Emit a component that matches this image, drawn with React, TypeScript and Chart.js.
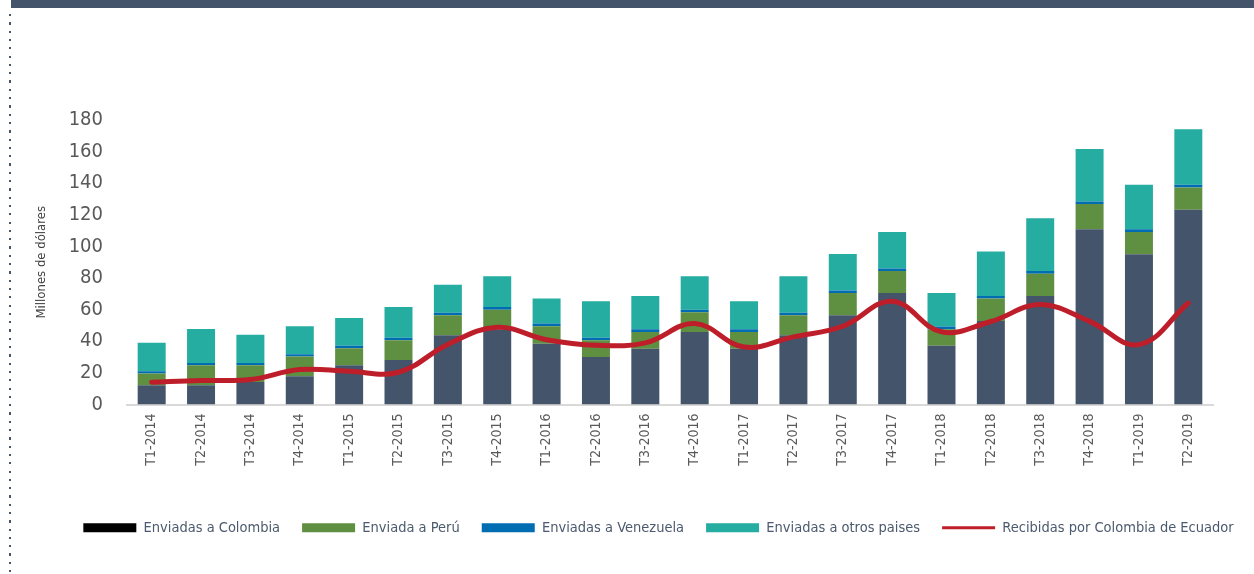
import React, { useEffect, useRef } from 'react';
import { Chart, registerables } from 'chart.js';

Chart.register(...registerables);

const categories = [
  'T1-2014', 'T2-2014', 'T3-2014', 'T4-2014',
  'T1-2015', 'T2-2015', 'T3-2015', 'T4-2015',
  'T1-2016', 'T2-2016', 'T3-2016', 'T4-2016',
  'T1-2017', 'T2-2017', 'T3-2017', 'T4-2017',
  'T1-2018', 'T2-2018', 'T3-2018', 'T4-2018',
  'T1-2019', 'T2-2019',
];

const enviadasColombia = [12.2, 12.2, 14.3, 17.9, 24.8, 28.2, 43.8, 47.4, 38.5, 30.1, 35.2, 45.9, 35.2, 43.8, 56.4, 70.6, 37.1, 52.9, 68.7, 110.8, 95.0, 123.2];
const enviadaPeru = [7.4, 12.6, 10.5, 12.4, 10.8, 12.4, 12.6, 12.6, 11.0, 10.5, 10.7, 12.4, 10.7, 12.6, 14.2, 13.9, 10.5, 14.1, 14.1, 16.0, 14.1, 14.1];
const enviadasVenezuela = [1.5, 1.5, 1.5, 1.5, 1.5, 1.7, 1.7, 1.7, 1.7, 1.7, 1.7, 1.7, 1.7, 1.7, 1.6, 1.6, 1.7, 1.7, 1.7, 1.6, 1.7, 1.7];
const enviadasOtros = [17.9, 21.5, 17.9, 17.7, 17.7, 19.4, 17.7, 19.4, 15.8, 23.0, 21.1, 21.1, 17.7, 23.0, 23.0, 23.0, 21.3, 28.1, 33.4, 33.3, 28.2, 35.2];
const recibidasEcuador = [14.1, 15.2, 15.8, 22.1, 21.0, 20.4, 38.0, 48.8, 41.0, 37.5, 39.0, 51.2, 36.4, 42.8, 49.5, 65.3, 46.0, 52.5, 63.2, 52.6, 37.9, 64.2];

const yMin = 0;
const yMax = 180;
const yStep = 20;

const FONT = "'DejaVu Sans Condensed', 'DejaVu Sans', sans-serif";

export default function App() {
  const canvasRef = useRef<HTMLCanvasElement | null>(null);

  useEffect(() => {
    const canvas = canvasRef.current;
    if (!canvas) return;
    const barCommon = {
      type: 'bar' as const,
      stack: 'bars',
      order: 1,
      categoryPercentage: 1,
      barPercentage: 0.567,
      borderWidth: 0,
    };
    const chart = new Chart(canvas, {
      type: 'bar',
      data: {
        labels: categories,
        datasets: [
          { ...barCommon, label: 'Enviadas a Colombia', data: enviadasColombia, backgroundColor: '#44546a' },
          { ...barCommon, label: 'Enviada a Perú', data: enviadaPeru, backgroundColor: '#5f8f41' },
          { ...barCommon, label: 'Enviadas a Venezuela', data: enviadasVenezuela, backgroundColor: '#006db3' },
          { ...barCommon, label: 'Enviadas a otros paises', data: enviadasOtros, backgroundColor: '#25ada1' },
          {
            type: 'line',
            label: 'Recibidas por Colombia de Ecuador',
            data: recibidasEcuador,
            stack: 'line',
            order: 0,
            borderColor: '#be1e2a',
            backgroundColor: '#be1e2a',
            borderWidth: 5,
            tension: 0.4,
            pointRadius: 0,
            borderCapStyle: 'round',
            fill: false,
          } as any,
        ],
      },
      options: {
        animation: false,
        responsive: false,
        maintainAspectRatio: false,
        layout: { padding: { top: 120, right: -23, bottom: 29, left: 40 } },
        plugins: {
          tooltip: { enabled: false },
          legend: {
            position: 'bottom',
            labels: {
              usePointStyle: true,
              pointStyleWidth: 53,
              boxHeight: 9,
              padding: 22,
              color: '#4b5a6e',
              font: { family: FONT, size: 14.5 },
              sort: (a: any, b: any) => a.datasetIndex - b.datasetIndex,
              generateLabels: (c: any) => {
                const items = Chart.defaults.plugins.legend.labels.generateLabels(c);
                items.forEach((it: any) => {
                  if (it.datasetIndex === 4) {
                    it.pointStyle = 'line';
                    it.lineWidth = 3;
                    it.strokeStyle = '#be1e2a';
                  } else {
                    it.pointStyle = 'rect';
                    it.lineWidth = 0;
                    if (it.datasetIndex === 0) it.fillStyle = '#000000';
                  }
                });
                return items;
              },
            },
          },
        },
        scales: {
          x: {
            stacked: true,
            grid: { display: false, drawTicks: false },
            border: { display: true, color: '#d9d9d9', width: 2 },
            ticks: {
              autoSkip: false,
              maxRotation: 90,
              minRotation: 90,
              padding: 9,
              color: '#595959',
              font: { family: FONT, size: 14 },
            },
            afterFit: (s: any) => { s.height = 94; },
          },
          y: {
            stacked: true,
            min: yMin,
            max: yMax,
            grid: { display: false, drawTicks: false },
            border: { display: false },
            ticks: {
              stepSize: yStep,
              autoSkip: false,
              padding: 24,
              color: '#595959',
              font: { family: FONT, size: 20 },
            },
            title: {
              display: true,
              text: 'Millones de dólares',
              color: '#404040',
              font: { family: FONT, size: 13 },
              padding: { top: -6, bottom: 0 },
            },
            afterFit: (s: any) => { s.width = 87; },
          },
          yRight: {
            type: 'linear',
            position: 'right',
            display: true,
            min: yMin,
            max: yMax,
            grid: { display: false, drawTicks: false },
            border: { display: false },
            ticks: { display: false },
            afterFit: (s: any) => { s.width = 64; },
          },
        },
      },
    } as any);
    return () => chart.destroy();
  }, []);

  return (
    <div style={{ position: 'fixed', left: 0, top: 0, width: 1254, height: 574, background: '#ffffff', overflow: 'hidden' }}>
      <div style={{ position: 'absolute', left: 11, top: 0, right: 0, height: 8, background: '#44546a' }} />
      <div
        style={{
          position: 'absolute', left: 9, top: 8, bottom: 0, width: 2,
          backgroundImage: 'repeating-linear-gradient(to bottom, transparent 0px, transparent 6px, #44546a 6px, #44546a 8.3px)',
        }}
      />
      <canvas ref={canvasRef} width={1254} height={574} style={{ position: 'absolute', left: 0, top: 0, width: 1254, height: 574 }} />
    </div>
  );
}
